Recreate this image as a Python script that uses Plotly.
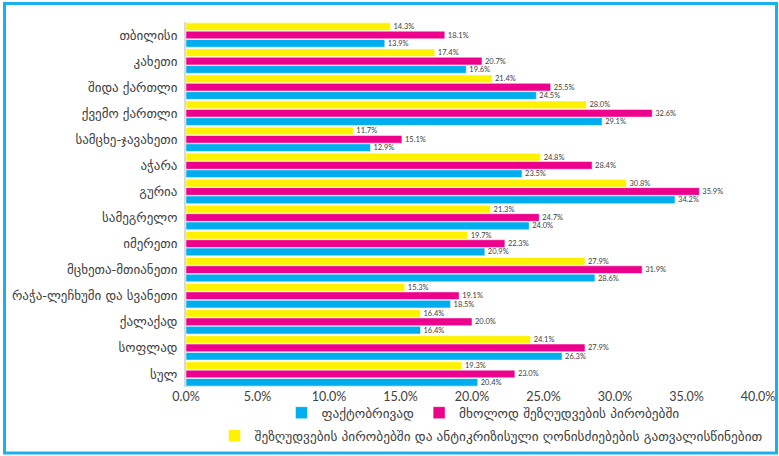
import plotly.graph_objects as go

categories = ["თბილისი", "კახეთი", "შიდა ქართლი", "ქვემო ქართლი", "სამცხე-ჯავახეთი",
              "აჭარა", "გურია", "სამეგრელო", "იმერეთი", "მცხეთა-მთიანეთი",
              "რაჭა-ლეჩხუმი და სვანეთი", "ქალაქად", "სოფლად", "სულ"]
actual = [13.9, 19.6, 24.5, 29.1, 12.9, 23.5, 34.2, 24.0, 20.9, 28.6, 18.5, 16.4, 26.3, 20.4]
restrictions_only = [18.1, 20.7, 25.5, 32.6, 15.1, 28.4, 35.9, 24.7, 22.3, 31.9, 19.1, 20.0, 27.9, 23.0]
with_anticrisis = [14.3, 17.4, 21.4, 28.0, 11.7, 24.8, 30.8, 21.3, 19.7, 27.9, 15.3, 16.4, 24.1, 19.3]
series_names = ["ფაქტობრივად", "მხოლოდ შეზღუდვების პირობებში",
                "შეზღუდვების პირობებში და ანტიკრიზისული ღონისძიებების გათვალისწინებით"]
colors = ["#00AEEF", "#EC008C", "#FFF200"]
x_ticks = [0, 5, 10, 15, 20, 25, 30, 35, 40]
x_tick_labels = [f"{v:.1f}%" for v in x_ticks]

W, H = 779, 456
ML, MR, MT, MB = 186, 21, 22, 69
pw, ph = W - ML - MR, H - MT - MB

fig = go.Figure()
for name, vals, col, lg in zip(series_names, [actual, restrictions_only, with_anticrisis], colors,
                               ["legend", "legend", "legend2"]):
    fig.add_trace(go.Bar(
        y=categories, x=vals, name=name, orientation="h",
        marker=dict(color=col, line=dict(color="white", width=0.5)),
        text=vals, texttemplate="%{x:.1f}%", textposition="outside",
        textfont=dict(size=7.5, color="#404040", family="Lato"),
        constraintext="none", cliponaxis=False, legend=lg,
    ))

fig.update_layout(
    width=W, height=H,
    margin=dict(l=ML, r=MR, t=MT, b=MB, autoexpand=False),
    paper_bgcolor="white", plot_bgcolor="white",
    barmode="group", bargap=0.04, bargroupgap=0.08,
    xaxis=dict(range=[0, 40], tickvals=x_ticks, ticktext=x_tick_labels,
               showgrid=False, zeroline=False, showline=False, automargin=False,
               tickfont=dict(size=12.5, color="#404040", family="Lato")),
    yaxis=dict(categoryorder="array", categoryarray=categories[::-1],
               showgrid=False, zeroline=False, showline=True, linecolor="#D9D9D9", linewidth=2,
               ticks="", ticklabelstandoff=4, automargin=False,
               tickfont=dict(size=13, color="#404040", family="DejaVu Sans")),
    legend=dict(orientation="h", x=(483 - ML) / pw, xanchor="center",
                y=(MT + ph - 413) / ph, yanchor="middle",
                font=dict(size=13.3, color="#404040", family="DejaVu Sans"),
                itemwidth=30, bgcolor="rgba(0,0,0,0)"),
    legend2=dict(orientation="h", x=(491 - ML) / pw, xanchor="center",
                 y=(MT + ph - 436) / ph, yanchor="middle",
                 font=dict(size=13.3, color="#404040", family="DejaVu Sans"),
                 itemwidth=30, bgcolor="rgba(0,0,0,0)"),
    shapes=[dict(type="rect", xref="paper", yref="paper",
                 x0=(4.5 - ML) / pw, x1=(776.5 - ML) / pw,
                 y0=(MT + ph - 453) / ph, y1=(MT + ph - 3.5) / ph,
                 line=dict(color="#1AB0EC", width=3), fillcolor="rgba(0,0,0,0)")],
)

fig.write_html("out.html", config={"displayModeBar": False},
               post_script="document.body.style.margin='0';")
